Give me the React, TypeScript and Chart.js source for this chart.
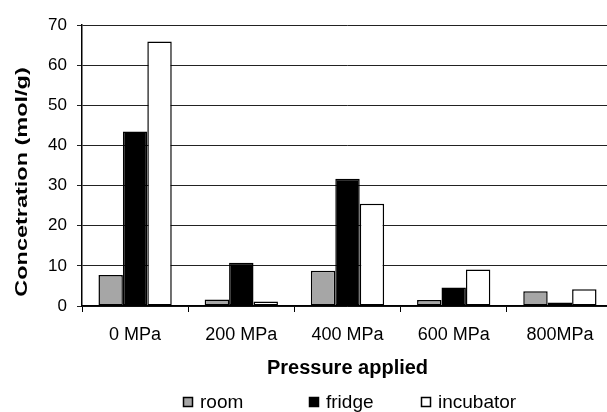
import React, { useEffect, useRef } from 'react';
import { Chart, registerables } from 'chart.js';

Chart.register(...registerables);

const categories = ['0 MPa', '200 MPa', '400 MPa', '600 MPa', '800MPa'];
const roomValues = [7.7, 1.6, 8.8, 1.5, 3.7];
const fridgeValues = [43.5, 10.8, 31.7, 4.6, 0.9];
const incubatorValues = [65.9, 1.1, 25.5, 9.1, 4.2];
const seriesNames = ['room', 'fridge', 'incubator'];
const seriesColors = ['#a6a6a6', '#000000', '#ffffff'];
const yMin = 0;
const yMax = 70;
const yStep = 10;
const xTitle = 'Pressure applied';
const yTitle = 'Concetration (mol/g)';

const FONT = "'Liberation Sans', Arial, sans-serif";

const yTitlePlugin = {
  id: 'yTitleStretched',
  afterDraw(chart: any) {
    const ctx = chart.ctx;
    ctx.save();
    ctx.translate(27, 182);
    ctx.rotate(-Math.PI / 2);
    ctx.scale(1.38, 1);
    ctx.font = `bold 17px ${FONT}`;
    ctx.fillStyle = '#000';
    ctx.textAlign = 'center';
    ctx.textBaseline = 'alphabetic';
    ctx.fillText(yTitle, 0, 0);
    ctx.restore();
  },
};

const legendPlugin = {
  id: 'customLegend',
  afterDraw(chart: any) {
    const ctx = chart.ctx;
    const starts = [183, 309, 421];
    const boxTop = 397;
    const box = 10;
    ctx.save();
    ctx.font = `19px ${FONT}`;
    ctx.textBaseline = 'alphabetic';
    ctx.textAlign = 'left';
    chart.data.datasets.forEach((ds: any, i: number) => {
      const x = starts[i];
      ctx.fillStyle = ds.backgroundColor;
      ctx.fillRect(x, boxTop, box, box);
      ctx.strokeStyle = '#000';
      ctx.lineWidth = 1.5;
      ctx.strokeRect(x + 0.5, boxTop + 0.5, box - 1, box - 1);
      ctx.fillStyle = '#000';
      ctx.fillText(ds.label, x + 17, 408);
    });
    ctx.restore();
  },
};

export default function App() {
  const ref = useRef<HTMLCanvasElement | null>(null);

  useEffect(() => {
    if (!ref.current) return;
    const values = [roomValues, fridgeValues, incubatorValues];
    const chart = new Chart(ref.current, {
      type: 'bar',
      data: {
        labels: categories,
        datasets: seriesNames.map((name, i) => ({
          label: name,
          data: values[i],
          backgroundColor: seriesColors[i],
          borderColor: '#000',
          borderWidth: 1.5,
          borderSkipped: false,
          categoryPercentage: 0.69,
          barPercentage: 1.0,
        })),
      },
      options: {
        animation: false,
        responsive: true,
        maintainAspectRatio: false,
        layout: { padding: { top: 25, right: 0, bottom: 28, left: 0 } },
        plugins: {
          legend: { display: false },
          tooltip: { enabled: false },
        },
        scales: {
          x: {
            grid: {
              offset: true,
              drawOnChartArea: false,
              drawTicks: true,
              tickLength: 6,
              color: '#000',
            },
            border: { display: true, color: '#000', width: 1.5 },
            ticks: {
              color: '#000',
              font: { family: FONT, size: 18, lineHeight: 1.0 },
              padding: 14,
              maxRotation: 0,
            },
            title: {
              display: true,
              text: xTitle,
              color: '#000',
              font: { family: FONT, size: 20, weight: 'bold', lineHeight: 1.0 },
              padding: { top: 0, bottom: 6 },
            },
          },
          y: {
            min: yMin,
            max: yMax,
            ticks: {
              stepSize: yStep,
              color: '#000',
              font: { family: FONT, size: 17 },
              padding: 10,
            },
            grid: {
              color: '#222',
              lineWidth: 1,
              drawTicks: true,
              tickLength: 5,
            },
            border: { display: true, color: '#000', width: 1.5 },
            afterFit(scale: any) {
              scale.width = 82;
            },
          },
        },
      },
      plugins: [yTitlePlugin, legendPlugin],
    });
    return () => chart.destroy();
  }, []);

  return (
    <div
      style={{
        position: 'absolute',
        left: 0,
        top: 0,
        width: 607,
        height: 412,
        overflow: 'hidden',
        background: '#fff',
      }}
    >
      <div style={{ position: 'relative', width: 613, height: 412 }}>
        <canvas ref={ref} />
      </div>
    </div>
  );
}
